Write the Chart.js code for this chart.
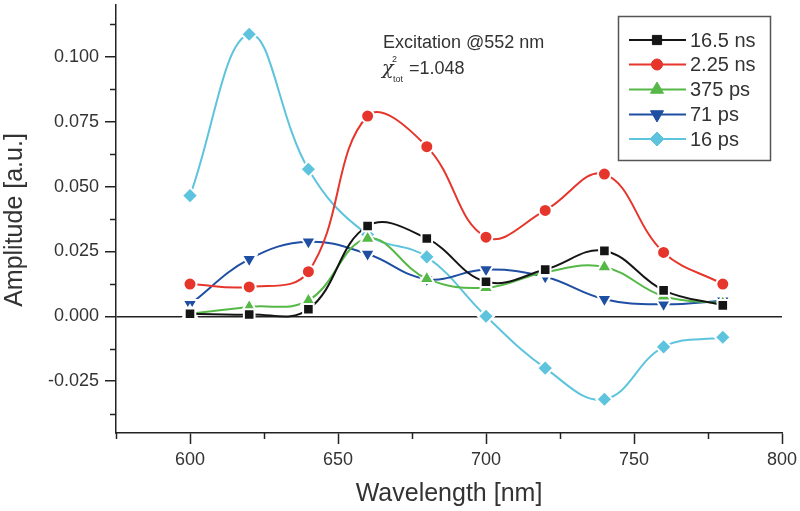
<!DOCTYPE html>
<html>
<head>
<meta charset="utf-8">
<script src="https://cdn.jsdelivr.net/npm/chart.js@4"></script>
<style>
html,body{margin:0;padding:0;background:#fff;}
canvas{display:block;}
</style>
</head>
<body>
<canvas id="c" width="800" height="511"></canvas>
<script>
// ---- data ----
const wavelengths = [600, 620, 640, 660, 680, 700, 720, 740, 760, 780];
const seriesLabels = ['16.5 ns', '2.25 ns', '375 ps', '71 ps', '16 ps'];
const s16_5ns = [0.0010, 0.0007, 0.0027, 0.0348, 0.0300, 0.0133, 0.0180, 0.0252, 0.0100, 0.0042];
const s2_25ns = [0.0124, 0.0113, 0.0172, 0.0772, 0.0654, 0.0305, 0.0408, 0.0548, 0.0246, 0.0124];
const s375ps  = [0.0010, 0.0036, 0.0061, 0.0300, 0.0145, 0.0110, 0.0170, 0.0190, 0.0077, 0.0050];
const s71ps   = [0.0046, 0.0220, 0.0287, 0.0240, 0.0143, 0.0180, 0.0152, 0.0066, 0.0046, 0.0060];
const s16ps   = [0.0465, 0.1087, 0.0567, 0.0315, 0.0229, 0.0000, -0.0200, -0.0320, -0.0118, -0.0081];
const xTickLabels = [600, 650, 700, 750, 800];
const yTickLabels = [-0.025, 0.000, 0.025, 0.050, 0.075, 0.100];

const FONT = "'Liberation Sans', Arial, sans-serif";
const TXT = '#333333';

const styles = [
  {color: '#151515', pointStyle: 'rect', radius: 7.5, rotation: 0},
  {color: '#e6352a', pointStyle: 'circle', radius: 6.5, rotation: 0},
  {color: '#55b847', pointStyle: 'triangle', radius: 8.5, rotation: 0},
  {color: '#1f4fa2', pointStyle: 'triangle', radius: 8.5, rotation: 180},
  {color: '#5ec4dd', pointStyle: 'rectRot', radius: 8, rotation: 0}
];
const allSeries = [s16_5ns, s2_25ns, s375ps, s71ps, s16ps];

const datasets = allSeries.map((vals, i) => ({
  label: seriesLabels[i],
  data: wavelengths.map((w, k) => ({x: w, y: vals[k]})),
  borderColor: styles[i].color,
  backgroundColor: styles[i].color,
  borderWidth: 2,
  tension: 0.4,
  pointStyle: styles[i].pointStyle,
  pointRotation: styles[i].rotation,
  pointRadius: styles[i].radius,
  pointBorderColor: '#ffffff',
  pointBorderWidth: 2,
  pointBackgroundColor: styles[i].color,
  fill: false
}));

const isMajorX = v => xTickLabels.some(t => Math.abs(t - v) < 1e-6);
const isMajorY = v => yTickLabels.some(t => Math.abs(t - v) < 1e-7);

const extras = {
  id: 'extras',
  afterDraw(chart) {
    const ctx = chart.ctx;
    const xs = chart.scales.x, ys = chart.scales.y;
    const ca = chart.chartArea;
    ctx.save();
    // minor ticks
    ctx.strokeStyle = '#222';
    ctx.lineWidth = 1.5;
    xs.ticks.forEach(t => {
      if (!isMajorX(t.value)) {
        const px = Math.round(xs.getPixelForValue(t.value)) + 0.5;
        ctx.beginPath(); ctx.moveTo(px, ca.bottom); ctx.lineTo(px, ca.bottom + 6); ctx.stroke();
      }
    });
    ys.ticks.forEach(t => {
      if (!isMajorY(t.value)) {
        const py = Math.round(ys.getPixelForValue(t.value)) + 0.5;
        ctx.beginPath(); ctx.moveTo(ca.left, py); ctx.lineTo(ca.left - 6, py); ctx.stroke();
      }
    });
    // axis titles
    ctx.fillStyle = TXT;
    ctx.font = '25px ' + FONT;
    ctx.textAlign = 'center';
    ctx.textBaseline = 'middle';
    ctx.fillText('Wavelength [nm]', (ca.left + ca.right) / 2, 494);
    ctx.save();
    ctx.translate(15, 220);
    ctx.rotate(-Math.PI / 2);
    ctx.fillText('Amplitude [a.u.]', 0, 0);
    ctx.restore();
    // annotation
    ctx.textAlign = 'left';
    ctx.textBaseline = 'alphabetic';
    ctx.font = '18px ' + FONT;
    ctx.fillText('Excitation @552 nm', 383, 48);
    ctx.font = 'italic 19px ' + "'DejaVu Serif', serif";
    ctx.fillText('\u03C7', 382, 74);
    ctx.font = '9px ' + FONT;
    ctx.fillText('2', 392, 62);
    ctx.fillText('tot', 393, 82);
    ctx.font = '18px ' + FONT;
    ctx.fillText('=1.048', 409, 74);
    // legend
    const bx = 618.5, by = 16.5, bw = 152, bh = 144;
    ctx.fillStyle = '#fff';
    ctx.fillRect(bx, by, bw, bh);
    ctx.strokeStyle = '#555';
    ctx.lineWidth = 1.5;
    ctx.strokeRect(bx, by, bw, bh);
    const rows = [40, 64.5, 89.5, 114.5, 139];
    chart.data.datasets.forEach((ds, i) => {
      const y = rows[i];
      ctx.strokeStyle = ds.borderColor;
      ctx.lineWidth = 2;
      ctx.beginPath(); ctx.moveTo(629, y); ctx.lineTo(686, y); ctx.stroke();
      ctx.fillStyle = ds.borderColor;
      ctx.strokeStyle = ds.borderColor;
      ctx.lineWidth = 1;
      Chart.helpers.drawPoint(ctx, {pointStyle: ds.pointStyle, rotation: ds.pointRotation, radius: ds.pointRadius - 1, borderWidth: 1}, 657, y);
      ctx.fillStyle = TXT;
      ctx.font = '20px ' + FONT;
      ctx.textBaseline = 'middle';
      ctx.fillText(ds.label, 690, y + 1);
    });
    ctx.restore();
  }
};

new Chart(document.getElementById('c'), {
  type: 'line',
  data: {datasets},
  plugins: [extras],
  options: {
    responsive: false,
    animation: false,
    layout: {autoPadding: false, padding: {top: 5, right: 18, left: 0, bottom: 0}},
    plugins: {legend: {display: false}, tooltip: {enabled: false}},
    scales: {
      x: {
        type: 'linear',
        min: 575, max: 800,
        afterFit: s => { s.height = 78; s.paddingLeft = 0; s.paddingRight = 0; },
        border: {display: true, color: '#222', width: 1.5},
        grid: {
          drawOnChartArea: false, drawTicks: true, tickLength: 11,
          tickWidth: 1.5,
          tickColor: c => (c.tick && isMajorX(c.tick.value)) ? '#222' : 'rgba(0,0,0,0)'
        },
        ticks: {
          stepSize: 25, autoSkip: false, includeBounds: false, maxRotation: 0,
          color: TXT, padding: 5,
          font: c => ({family: FONT, size: (c.tick && isMajorX(c.tick.value)) ? 18 : 2}),
          callback: v => isMajorX(v) ? String(v) : ''
        }
      },
      y: {
        type: 'linear',
        min: -0.045, max: 0.12,
        afterFit: s => { s.width = 116; s.paddingTop = 0; s.paddingBottom = 0; },
        border: {display: true, color: '#222', width: 1.5},
        grid: {
          drawOnChartArea: true, drawTicks: true, tickLength: 11,
          tickWidth: 1.5,
          lineWidth: 1.5,
          color: c => (c.tick && Math.abs(c.tick.value) < 1e-9) ? '#222' : 'rgba(0,0,0,0)',
          tickColor: c => (c.tick && isMajorY(c.tick.value)) ? '#222' : 'rgba(0,0,0,0)'
        },
        ticks: {
          stepSize: 0.0125, autoSkip: false, includeBounds: false,
          color: TXT, padding: 6,
          font: c => ({family: FONT, size: (c.tick && isMajorY(c.tick.value)) ? 18 : 2}),
          callback: v => isMajorY(v) ? Number(v).toFixed(3) : ''
        }
      }
    }
  }
});
</script>
</body>
</html>
